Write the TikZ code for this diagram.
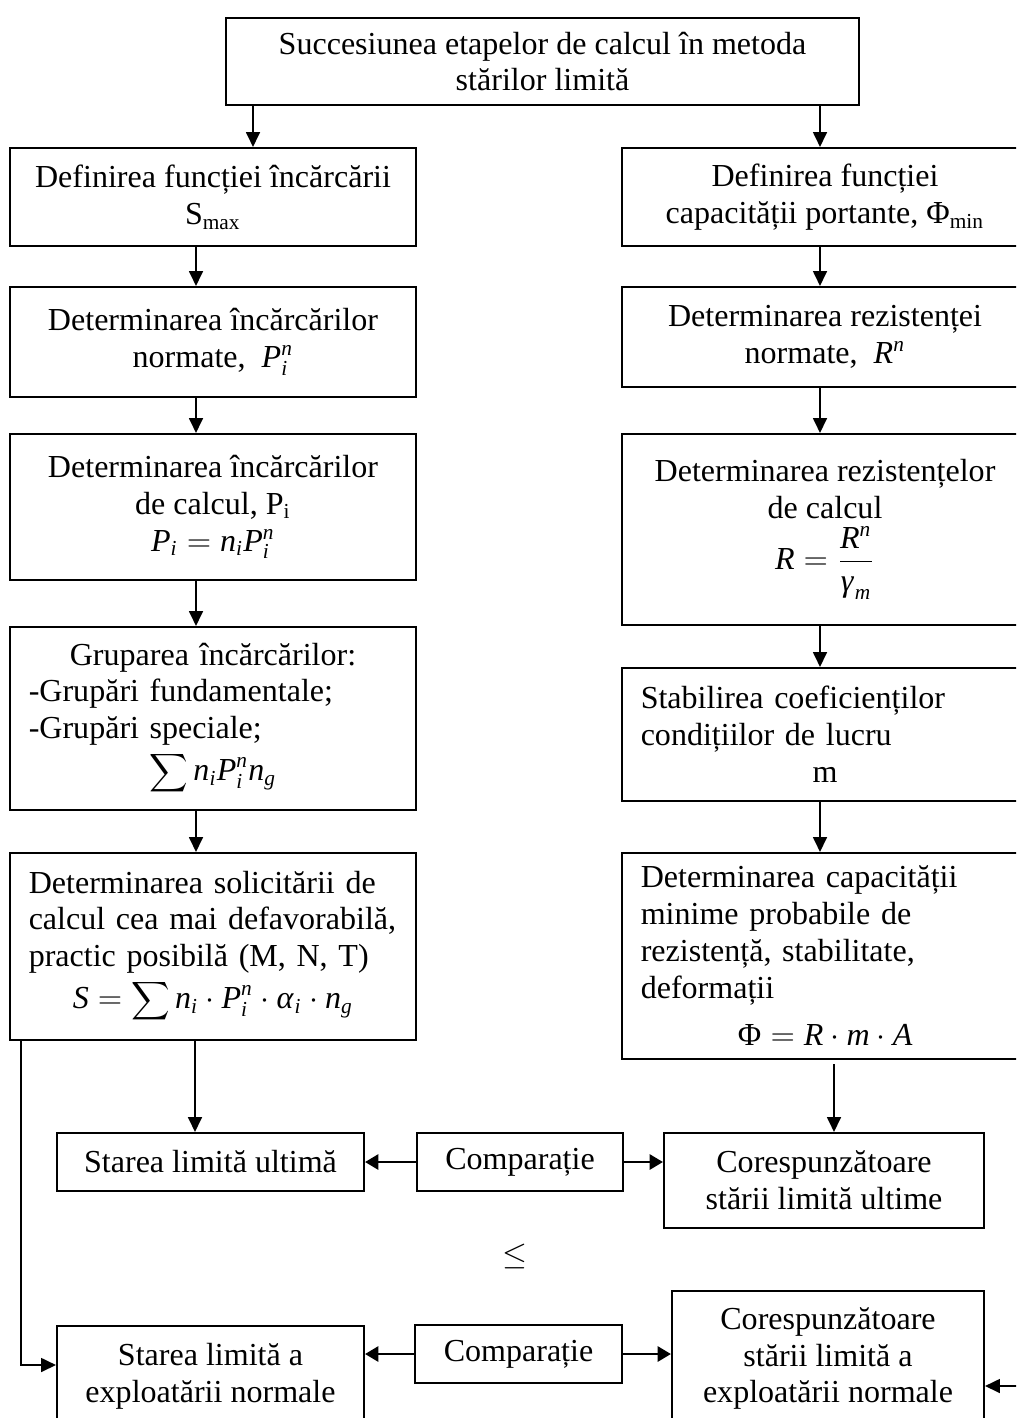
\documentclass[12pt,tikz,border=0pt]{standalone}
\usepackage{mathspec}
\setmainfont{Liberation Serif}
\setmathsfont(Digits,Latin,Greek){Liberation Serif}
\usetikzlibrary{arrows.meta}
\newcommand{\px}{0.3745pt}

\begin{document}
\begin{tikzpicture}[x=\px, y=-\px,
  blok/.style={draw, line width=0.75pt, align=center, font=\fontsize{12}{13.8}\selectfont},
  blokl/.style={blok, align=left, text width=138pt},
  sz/.style 2 args={minimum width=#1*\px, minimum height=#2*\px},
  arr/.style={line width=0.75pt, -{Triangle[length=5.6pt,width=5.2pt]}},
  arrc/.style={line width=1.1pt, -{Triangle[length=5pt,width=5.6pt]}}]
\useasboundingbox (0,0) rectangle (1016,1418);
\clip (0,0) rectangle (1016,1418);

\node[blok, sz={633}{87}] (top) at (542.5,61.5) {Succesiunea etapelor de calcul în metoda\\stărilor limită};

% solicitari
\node[blok, sz={406}{98}] (b1) at (213,197) {Definirea funcției încărcării\\S\textsubscript{max}};
\node[blok, sz={406}{110}] (b2) at (213,342) {Determinarea încărcărilor\\normate,~ $P_i^n$};
\node[blok, sz={406}{146}] (b3) at (213,507) {Determinarea încărcărilor\\de calcul, P\textsubscript{i}\\$P_i=n_iP_i^n$};
\node[blokl, sz={406}{183}] (b4) at (213,718.5) {\hfill Gruparea încărcărilor:\hfill\null\\-Grupări fundamentale;\\-Grupări speciale;\\[2pt]\hfill$\displaystyle\sum n_iP_i^nn_g$\hfill\null};
\node[blokl, sz={406}{187}] (b5) at (213,946.5) {Determinarea solicitării de\\calcul cea mai defavorabilă,\\practic posibilă (M, N, T)\\[2pt]\hfill$\displaystyle S=\sum n_i\cdot P_i^n\cdot\alpha_i\cdot n_g$\hfill\null};

% capacitate portanta
\node[blok, sz={406}{98}] (r1) at (825,197) {Definirea funcției\\capacității portante, Φ\textsubscript{min}};
\node[blok, sz={406}{100}] (r2) at (825,337) {Determinarea rezistenței\\normate,~ $R^n$};
\node[blok, sz={406}{191}] (r3) at (825,529.5) {Determinarea rezistențelor\\de calcul\\[2pt]$\displaystyle R=\frac{R^n}{\gamma_m}$};
\node[blokl, sz={406}{133}] (r4) at (825,734.5) {Stabilirea coeficienților\\condițiilor de lucru\\\hfill m\hfill\null};
\node[blokl, sz={406}{206}] (r5) at (825,956) {Determinarea capacității\\minime probabile de\\rezistență, stabilitate,\\deformații\\[4pt]\hfill$\Phi=R\cdot m\cdot A$\hfill\null};

% comparatii
\node[blok, sz={307}{58}] (sl1) at (210.5,1162) {Starea limită ultimă};
\node[blok, sz={206}{58}] (cmp1) at (520,1162) {Comparație};
\node[blok, sz={320}{95}] (cs1) at (824,1180.5) {Corespunzătoare\\stării limită ultime};
\node[font=\fontsize{12}{13.8}\selectfont] (le) at (515,1256) {$\leq$};
\node[blok, sz={307}{100}] (sl2) at (210.5,1376) {Starea limită a\\exploatării normale};
\node[blok, sz={207}{58}] (cmp2) at (518.5,1354) {Comparație};
\node[blok, sz={312}{135}] (cs2) at (828,1358.5) {Corespunzătoare\\stării limită a\\exploatării normale};
\coordinate (rin) at (1030,1386);

\draw[arr] ([xshift=40*\px]top.south -| b1.north) -- ([xshift=40*\px]b1.north);
\draw[arr] ([xshift=-5*\px]top.south -| r1.north) -- ([xshift=-5*\px]r1.north);
\foreach \a/\b in {b1/b2,b2/b3,b3/b4,b4/b5}
  \draw[arr] ([xshift=-17*\px]\a.south) -- ([xshift=-17*\px]\b.north);
\foreach \a/\b in {r1/r2,r2/r3,r3/r4,r4/r5}
  \draw[arr] ([xshift=-5*\px]\a.south) -- ([xshift=-5*\px]\b.north);
\draw[arr] ([xshift=-18*\px]b5.south) -- ([xshift=-18*\px]b5.south |- sl1.north);
\draw[arr] ([xshift=9*\px,yshift=-4*\px]r5.south) -- ([xshift=9*\px]r5.south |- cs1.north);
\draw[arr] ([xshift=12*\px]b5.south west) |- ([yshift=11*\px]sl2.west);
\draw[arr] (rin) -- (rin -| cs2.east);

\draw[arrc] (cmp1.west) -- (cmp1.west -| sl1.east);
\draw[arrc] (cmp1.east) -- (cmp1.east -| cs1.west);
\draw[arrc] (cmp2.west) -- (cmp2.west -| sl2.east);
\draw[arrc] (cmp2.east) -- (cmp2.east -| cs2.west);
\end{tikzpicture}
\end{document}
